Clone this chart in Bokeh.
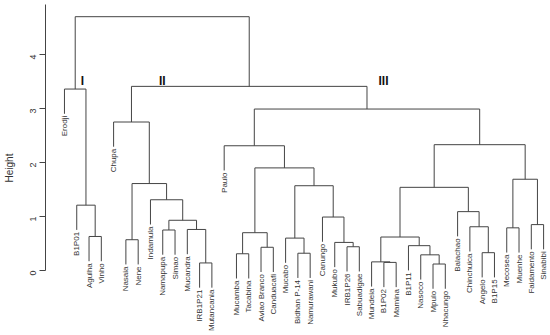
import math
from bokeh.plotting import figure
from bokeh.models import Range1d, FixedTicker
from bokeh.core.properties import value
from bokeh.embed import file_html
from bokeh.resources import INLINE

# ---------------- data ----------------
leaf_labels = [
    "Erodji", "B1P01", "Agulha", "Vinho", "Chupa", "Nasaia", "Nene", "Indamula",
    "Namapupa", "Simao", "Mucandra", "IRB1P21", "Mutancania", "Paulo", "Mucamba",
    "Tacabina", "Aviao Branco", "Canduacafi", "Mucabo", "Bidhan P-14", "Namurawani",
    "Canungo", "Mukubo", "IRB1P26", "Sabuadigae", "Mundeia", "B1P02", "Mamina",
    "B1P11", "Nasoco", "Mpulo", "Nhacungo", "Balachao", "Chinchuica", "Angelo",
    "B1P15", "Mecosea", "Muenhe", "Faidamento", "Sinabibi",
]

# merges: a string is a leaf, an int is an earlier merge (0-based)
merge_left = [
    "Agulha", "B1P01", "Erodji", "Nasaia", "Namapupa", "IRB1P21", "Mucandra", 4, "Indamula", 3,
    "Chupa", "Mucamba", "Aviao Branco", 11, "Bidhan P-14", "Mucabo", "IRB1P26", "Mukubo", "Canungo", 15,
    13, "Paulo", "B1P02", "Mundeia", "Mpulo", "Nasoco", "B1P11", 23, "Angelo", "Chinchuica",
    "Balachao", 27, "Mecosea", "Faidamento", 32, 31, 21, 10, 2,
]
merge_right = [
    "Vinho", 0, 1, "Nene", "Simao", "Mutancania", 5, 6, 7, 8,
    9, "Tacabina", "Canduacafi", 12, "Namurawani", 14, "Sabuadigae", 16, 17, 18,
    19, 20, "Mamina", 22, "Nhacungo", 24, 25, 26, "B1P15", 28,
    29, 30, "Muenhe", "Sinabibi", 33, 34, 35, 36, 37,
]
merge_height = [
    0.63, 1.21, 3.36, 0.57, 0.75, 0.14, 0.76, 0.93, 1.31, 1.61,
    2.75, 0.31, 0.43, 0.70, 0.32, 0.60, 0.44, 0.52, 0.99, 1.57,
    1.90, 2.31, 0.15, 0.16, 0.12, 0.29, 0.46, 0.62, 0.33, 0.81,
    1.09, 1.54, 0.79, 0.85, 1.69, 2.33, 2.99, 3.41, 4.70,
]
y_ticks = [0, 1, 2, 3, 4]
cluster_names = ["I", "II", "III"]

# ---------------- layout / style constants ----------------
X_START, X_END = -0.5435, 40.562
Y_START, Y_END = -1.2037, 5.0
cluster_label_x = [2.46, 8.96, 26.97]
cluster_label_y = 3.505
LINE = "#444444"
TXT = "#333333"
FONT = "Liberation Sans"

# ---------------- dendrogram geometry (R plot.hclust style) ----------------
leaf_pos = {name: i + 1 for i, name in enumerate(leaf_labels)}
hang = 0.1 * (max(merge_height) - min(merge_height))
node_x = []
leaf_bottom = {}
xs, ys = [], []
for l, r, h in zip(merge_left, merge_right, merge_height):
    pts = []
    for child in (l, r):
        if isinstance(child, str):
            cx = leaf_pos[child]
            cy = h - hang
            leaf_bottom[child] = cy
        else:
            cx = node_x[child]
            cy = merge_height[child]
        pts.append((cx, cy))
    (xl, yl), (xr, yr) = pts
    xs.append([xl, xl, xr, xr])
    ys.append([yl, h, h, yr])
    node_x.append((xl + xr) / 2.0)

p = figure(
    width=550, height=335,
    x_range=Range1d(X_START, X_END), y_range=Range1d(Y_START, Y_END),
    output_backend="svg", toolbar_location=None,
    x_axis_location=None, y_axis_location="left",
    min_border_left=44, min_border_right=0, min_border_top=0, min_border_bottom=0,
)
p.outline_line_color = None
p.grid.visible = False
p.background_fill_color = "white"

p.multi_line(xs, ys, line_color=LINE, line_width=1)

label_x = [leaf_pos[n] for n in leaf_labels]
label_y = [leaf_bottom[n] - 2.0 / 54.0 for n in leaf_labels]
p.text(x=label_x, y=label_y, text=leaf_labels, angle=math.pi / 2,
       text_align="right", text_baseline="middle",
       text_font=value(FONT), text_font_size="8px", text_color=TXT)

p.text(x=cluster_label_x, y=[cluster_label_y] * len(cluster_names), text=cluster_names,
       text_align="center", text_baseline="middle",
       text_font=value(FONT), text_font_size="12px", text_font_style="bold",
       text_color="#111111")

ax = p.yaxis[0]
ax.ticker = FixedTicker(ticks=y_ticks)
ax.bounds = (0, 4.93)
ax.major_tick_out = 6
ax.major_tick_in = 0
ax.minor_tick_out = 0
ax.minor_tick_in = 0
ax.major_label_orientation = math.pi / 2
ax.major_label_standoff = 6
ax.major_label_text_font = FONT
ax.major_label_text_font_size = "9px"
ax.major_label_text_color = TXT
ax.axis_label = "Height"
ax.axis_label_text_font = FONT
ax.axis_label_text_font_size = "10px"
ax.axis_label_text_font_style = "normal"
ax.axis_label_text_color = TXT
ax.axis_label_standoff = 10
ax.axis_line_color = LINE
ax.major_tick_line_color = LINE

open("out.html", "w").write(file_html(p, INLINE))
